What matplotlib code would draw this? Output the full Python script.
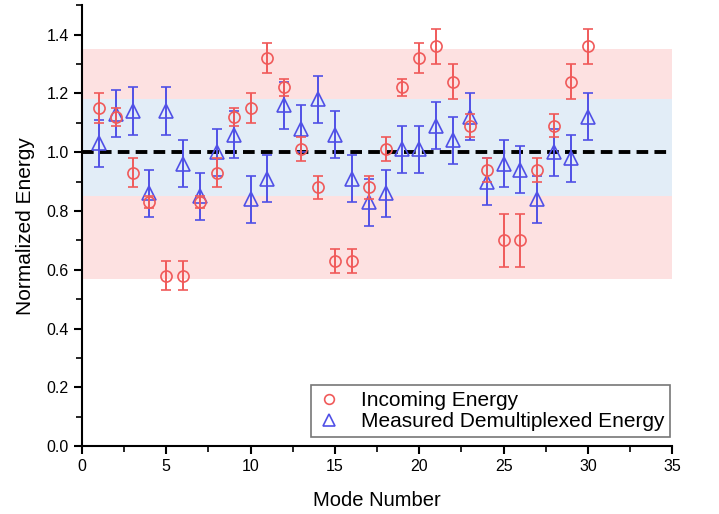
import matplotlib.pyplot as plt
from matplotlib.ticker import MultipleLocator
from matplotlib.lines import Line2D

plt.rcParams['font.family'] = ['Liberation Sans', 'DejaVu Sans']

modes = list(range(1, 31))

incoming = [1.15, 1.12, 0.93, 0.83, 0.58, 0.58, 0.83, 0.93, 1.12, 1.15,
            1.32, 1.22, 1.01, 0.88, 0.63, 0.63, 0.88, 1.01, 1.22, 1.32,
            1.36, 1.24, 1.09, 0.94, 0.70, 0.70, 0.94, 1.09, 1.24, 1.36]
incoming_err = [0.05, 0.03, 0.05, 0.02, 0.05, 0.05, 0.02, 0.05, 0.03, 0.05,
                0.05, 0.03, 0.04, 0.04, 0.04, 0.04, 0.04, 0.04, 0.03, 0.05,
                0.06, 0.06, 0.04, 0.04, 0.09, 0.09, 0.04, 0.04, 0.06, 0.06]

measured = [1.03, 1.13, 1.14, 0.86, 1.14, 0.96, 0.85, 1.00, 1.06, 0.84,
            0.91, 1.16, 1.08, 1.18, 1.06, 0.91, 0.83, 0.86, 1.01, 1.01,
            1.09, 1.04, 1.12, 0.90, 0.96, 0.94, 0.84, 1.00, 0.98, 1.12]
measured_err = [0.08] * 30

band_outer = (0.57, 1.35)
band_inner = (0.85, 1.18)

red = '#f05a5a'
blue = '#5050e6'

fig = plt.figure(figsize=(7.19, 5.14), dpi=100)
ax = fig.add_axes([0.114, 0.132, 0.821, 0.858])

ax.fill_between([0, 35], band_outer[0], band_outer[1], color='#fde1e1', lw=0, zorder=0)
ax.fill_between([0, 35], band_inner[0], band_inner[1], color='#e2edf7', lw=0, zorder=0)
ax.axhline(1.0, color='black', lw=2.8, ls=(0, (3, 1.6)), zorder=1)

ax.errorbar(modes, incoming, yerr=incoming_err, fmt='o', mfc='none', mec=red,
            ms=8, mew=1.2, ecolor=red, elinewidth=1.4, capsize=3.5, capthick=1.4,
            zorder=3)
ax.errorbar(modes, measured, yerr=measured_err, fmt='^', mfc='none', mec=blue,
            ms=10, mew=1.2, ecolor=blue, elinewidth=1.4, capsize=3.5, capthick=1.4,
            zorder=2)

ax.set_xlim(0, 35)
ax.set_ylim(0, 1.5)
ax.xaxis.set_major_locator(MultipleLocator(5))
ax.xaxis.set_minor_locator(MultipleLocator(2.5))
ax.set_yticks([0.0, 0.2, 0.4, 0.6, 0.8, 1.0, 1.2, 1.4])
ax.yaxis.set_minor_locator(MultipleLocator(0.1))
ax.yaxis.set_major_formatter(plt.FormatStrFormatter('%.1f'))

for s in ['top', 'right']:
    ax.spines[s].set_visible(False)
for s in ['left', 'bottom']:
    ax.spines[s].set_linewidth(1.5)

ax.tick_params(which='major', direction='out', length=6, width=1.5, labelsize=11.5)
ax.tick_params(which='minor', direction='out', length=4, width=1.2)

ax.set_xlabel('Mode Number', fontsize=14.5, labelpad=12)
ax.set_ylabel('Normalized Energy', fontsize=15, labelpad=8)

handles = [
    Line2D([], [], ls='none', marker='o', mfc='none', mec=red, ms=7, mew=1.2),
    Line2D([], [], ls='none', marker='^', mfc='none', mec=blue, ms=8, mew=1.2),
]
leg = ax.legend(handles, ['Incoming Energy', 'Measured Demultiplexed Energy'],
                loc='lower right', bbox_to_anchor=(0.997, 0.02), fontsize=15,
                frameon=True, fancybox=False, edgecolor='#555555',
                handlelength=1.2, handletextpad=0.9, borderpad=0.3,
                labelspacing=0.1, borderaxespad=0.0)
leg.get_frame().set_linewidth(1.2)

fig.savefig('out.png', dpi=100)
